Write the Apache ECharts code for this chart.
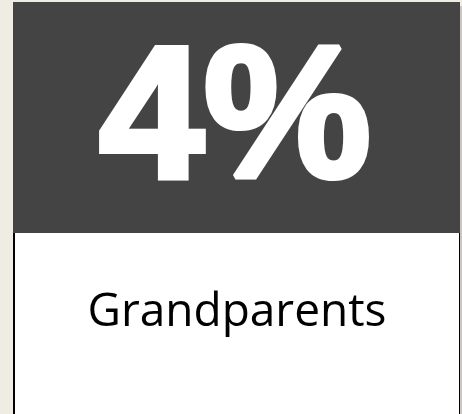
<!DOCTYPE html>
<html><head><meta charset="utf-8">
<script src="https://cdn.jsdelivr.net/npm/echarts@6/dist/echarts.min.js"></script>
<style>html,body{margin:0;padding:0;background:#efece4;}#c{width:462px;height:414px;}</style>
</head><body><div id="c"></div>
<script>
const categories = ['Grandparents'];
const percentValues = [4];

const chart = echarts.init(document.getElementById('c'), null, {renderer: 'canvas'});
const valueText = percentValues[0] + '%';
chart.setOption({
  backgroundColor: '#efece4',
  animation: false,
  graphic: [
    {type: 'rect', shape: {x: 14, y: 232, width: 446, height: 200}, style: {fill: '#ffffff', stroke: '#000000', lineWidth: 2}},
    {type: 'rect', shape: {x: 13, y: 2, width: 447, height: 231}, style: {fill: '#444444'}},
    {type: 'rect', shape: {x: 460, y: 6, width: 2, height: 420}, style: {fill: '#c9c7c0'}},
    {type: 'text', x: 235, y: 31, style: {text: valueText, fill: '#ffffff', stroke: '#ffffff', lineWidth: 6, lineJoin: 'round',
      font: '900 188px "Liberation Sans", Arial, sans-serif', align: 'center', verticalAlign: 'top'}},
    {type: 'text', x: 237, y: 290, style: {text: categories[0], fill: '#000000',
      font: '400 46px "Open Sans", "Noto Sans", sans-serif', align: 'center', verticalAlign: 'top'}}
  ]
});
</script></body></html>
